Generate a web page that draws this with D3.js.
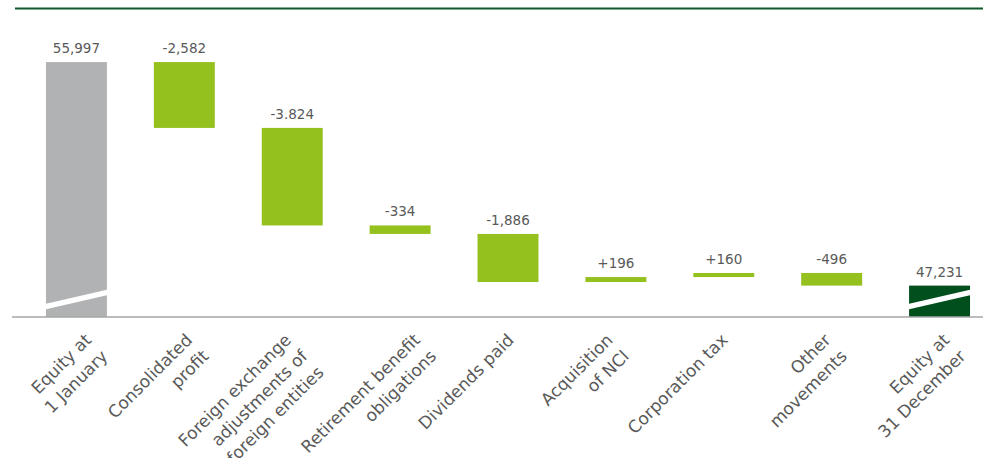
<!DOCTYPE html>
<html>
<head>
<meta charset="utf-8">
<script src="https://cdn.jsdelivr.net/npm/d3@7"></script>
<style>
  html, body { margin: 0; padding: 0; background: #ffffff; }
  svg { display: block; }
</style>
</head>
<body>
<svg id="chart" width="983" height="458"></svg>
<script>
// Group equity bridge, opening balance to closing balance
const categories = [
  ["Equity at", "1 January"],
  ["Consolidated", "profit"],
  ["Foreign exchange", "adjustments of", "foreign entities"],
  ["Retirement benefit", "obligations"],
  ["Dividends paid"],
  ["Acquisition", "of NCI"],
  ["Corporation tax"],
  ["Other", "movements"],
  ["Equity at", "31 December"]
];
const barTypes = ["open", "step", "step", "step", "step", "step", "step", "step", "close"];
const values = [55997, -2582, -3824, -334, -1886, 196, 160, -496, 47231];
const valueLabels = ["55,997", "-2,582", "-3.824", "-334", "-1,886", "+196", "+160", "-496", "47,231"];
// truncated value axis
const axisRange = [46000, 56000];

// layout
const W = 983, H = 458;
const baseY = 317, topY = 62;
const colors = { open: "#b1b2b4", step: "#95c11f", close: "#004f1c" };
const font = "DejaVu Sans, Verdana, sans-serif";
// horizontal nudge of each rotated category label from its tick
const labelNudge = [16, 9, 0, 21, 7, -2, 5, 0, 11];

const svg = d3.select("#chart");

const x = d3.scaleBand()
  .domain(d3.range(categories.length))
  .range([22.5, 993.5])
  .paddingInner(0.435)
  .paddingOuter(0.2175);

const y = d3.scaleLinear().domain(axisRange).range([baseY, topY]);

// running totals for the floating bars
let running = 0;
const bars = values.map((v, i) => {
  let lo, hi;
  if (barTypes[i] === "open") { lo = axisRange[0]; hi = v; running = v; }
  else if (barTypes[i] === "close") { lo = axisRange[0]; hi = v; }
  else { const start = running; running += v; lo = Math.min(start, running); hi = Math.max(start, running); }
  return { i, lo, hi, type: barTypes[i], label: valueLabels[i] };
});

// header rule
svg.append("rect").attr("x", 15).attr("y", 7.5).attr("width", W - 15).attr("height", 2).attr("fill", "#0f5a2a");

// bars
svg.append("g").selectAll("rect").data(bars).join("rect")
  .attr("x", d => x(d.i))
  .attr("width", x.bandwidth())
  .attr("y", d => y(d.hi))
  .attr("height", d => y(d.lo) - y(d.hi))
  .attr("fill", d => colors[d.type]);

// axis-break slashes across the total bars
svg.append("g").selectAll("path").data(bars.filter(d => d.type !== "step")).join("path")
  .attr("d", d => {
    const x0 = x(d.i) - 1, x1 = x(d.i) + x.bandwidth() + 1;
    const yl = baseY - 13, yr = baseY - 27.5, t = 5.5;
    return `M${x0},${yl}L${x1},${yr}L${x1},${yr + t}L${x0},${yl + t}Z`;
  })
  .attr("fill", "#ffffff");

// value labels
svg.append("g").selectAll("text").data(bars).join("text")
  .attr("x", d => x(d.i) + x.bandwidth() / 2)
  .attr("y", d => y(d.hi) - 9)
  .attr("text-anchor", "middle")
  .attr("font-family", font)
  .attr("font-size", 13.5)
  .attr("fill", "#595959")
  .text(d => d.label);

// category axis
const axis = d3.axisBottom(x).tickSize(0).tickFormat("");
const axisG = svg.append("g").attr("transform", `translate(0,${baseY})`).call(axis);
axisG.select(".domain").remove();
svg.append("line").attr("x1", 12).attr("x2", W).attr("y1", baseY).attr("y2", baseY)
  .attr("stroke", "#a6a6a6").attr("stroke-width", 1.5);

// rotated, right-aligned category labels
const lh = 23;
const labelG = svg.append("g");
categories.forEach((lines, i) => {
  const cx = x(i) + x.bandwidth() / 2;
  const g = labelG.append("g")
    .attr("transform", `translate(${cx + labelNudge[i]},${baseY + 24}) rotate(-45)`);
  lines.forEach((ln, k) => {
    g.append("text")
      .attr("x", 0)
      .attr("y", k * lh)
      .attr("text-anchor", "end")
      .attr("font-family", font)
      .attr("font-size", 17)
      .attr("fill", "#595959")
      .text(ln);
  });
});
</script>
</body>
</html>
